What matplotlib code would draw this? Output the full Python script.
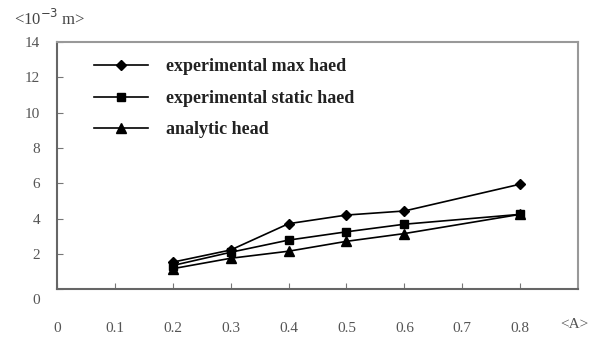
import matplotlib
matplotlib.use("Agg")
import matplotlib.pyplot as plt
import matplotlib.transforms as mtransforms

# data
a_vals = [0.2, 0.3, 0.4, 0.5, 0.6, 0.8]
max_head = [1.53, 2.22, 3.71, 4.20, 4.43, 5.95]
static_head = [1.34, 2.09, 2.78, 3.25, 3.68, 4.24]
analytic_head = [1.16, 1.75, 2.15, 2.71, 3.15, 4.24]

xticks = [0, 0.1, 0.2, 0.3, 0.4, 0.5, 0.6, 0.7, 0.8]
xtick_labels = ["0", "0.1", "0.2", "0.3", "0.4", "0.5", "0.6", "0.7", "0.8"]
yticks = [0, 2, 4, 6, 8, 10, 12, 14]

plt.rcParams['font.family'] = ['Liberation Serif', 'DejaVu Serif']

fig = plt.figure(figsize=(6.06, 3.37), dpi=100)
ax = fig.add_axes([0.094, 0.142, 0.860, 0.733])

ax.plot(a_vals, max_head, color='black', lw=1.2, marker='D', ms=5.5, label='experimental max haed')
ax.plot(a_vals, static_head, color='black', lw=1.2, marker='s', ms=6, label='experimental static haed')
ax.plot(a_vals, analytic_head, color='black', lw=1.2, marker='^', ms=7, label='analytic head')

ax.set_xlim(0, 0.9)
ax.set_ylim(0, 14)
ax.set_xticks(xticks)
ax.set_xticklabels(xtick_labels)
ax.set_yticks(yticks)

ax.tick_params(axis='x', direction='in', length=4, pad=24, labelsize=11, labelcolor='#555555', color='#777777')
ax.tick_params(axis='y', direction='in', length=4, pad=12, labelsize=11, labelcolor='#555555', color='#777777')

# the "0" label sits a little lower in the original
for lbl in ax.get_yticklabels():
    if lbl.get_text() == "0":
        lbl.set_transform(lbl.get_transform() + mtransforms.ScaledTranslation(0, -10/100, fig.dpi_scale_trans))

for side in ['left', 'bottom']:
    ax.spines[side].set_color('#666666')
    ax.spines[side].set_linewidth(1.5)
for side in ['top', 'right']:
    ax.spines[side].set_color('#999999')
    ax.spines[side].set_linewidth(1.5)

leg = ax.legend(loc='upper left', bbox_to_anchor=(0.04, 1.0), frameon=False,
                prop={'weight': 'bold', 'size': 13}, handlelength=3.0,
                labelspacing=0.8, handletextpad=1.0)
for t in leg.get_texts():
    t.set_color('#222222')

fig.text(0.023, 0.925, r"<10$^{-3}$ m>", fontsize=12, color='#444444')
fig.text(0.925, 0.027, "<A>", fontsize=11, color='#555555')

fig.savefig("out.png", dpi=100)
